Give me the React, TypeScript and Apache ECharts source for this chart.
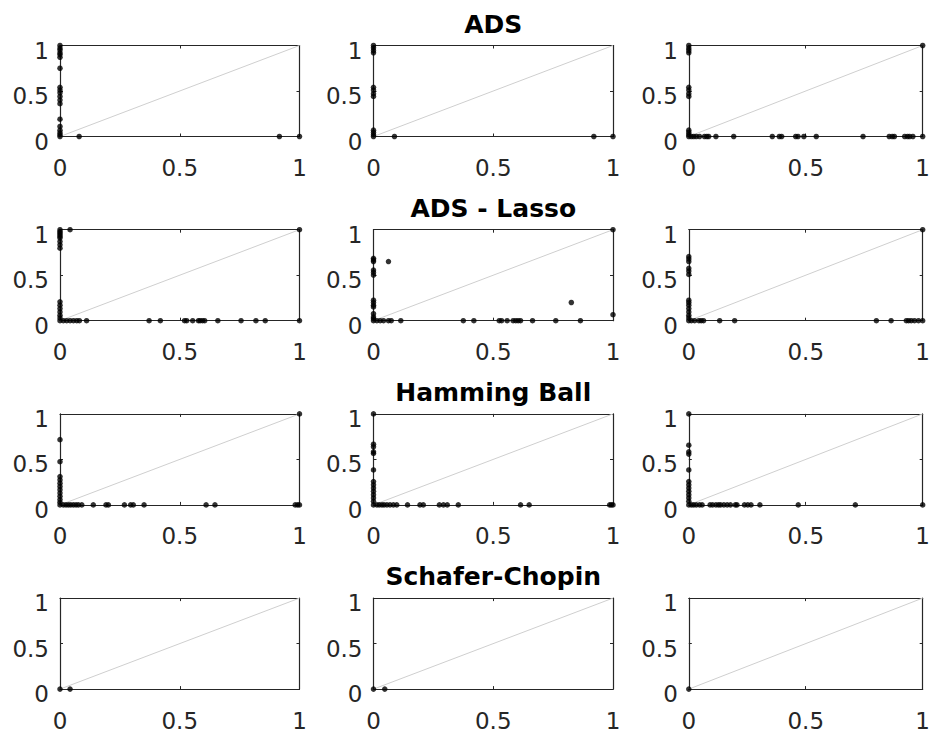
import React, { useEffect, useRef } from "react";
import * as echarts from "echarts";

// Row titles (drawn above the middle column of each row)
const rowTitles = ["ADS", "ADS - Lasso", "Hamming Ball", "Schafer-Chopin"];

// Shared tick values for both axes of every panel
const tickValues = [0, 0.5, 1];

// Reference diagonal y = x
const diagonal = [
  [0, 0],
  [1, 1],
];

// Row 1: ADS
const adsCol1 = [
  [0, 1.0], [0, 0.97], [0, 0.95], [0, 0.92], [0, 0.9], [0, 0.87], [0, 0.75],
  [0, 0.54], [0, 0.51], [0, 0.48], [0, 0.44], [0, 0.4], [0, 0.36], [0, 0.19],
  [0, 0.11], [0, 0.07], [0, 0.04], [0, 0.02], [0, 0],
  [0.08, 0], [0.916, 0], [1, 0],
];
const adsCol2 = [
  [0, 1.0], [0, 0.975], [0, 0.945], [0, 0.92], [0, 0.54], [0, 0.51], [0, 0.47],
  [0, 0.44], [0, 0.07], [0, 0.045], [0, 0.02], [0, 0],
  [0.0875, 0], [0.92, 0], [1, 0],
];
const adsCol3 = [
  [0, 1.0], [0, 0.97], [0, 0.945], [0, 0.92], [0, 0.54], [0, 0.51], [0, 0.47],
  [0, 0.44], [0, 0.07], [0, 0.045], [0, 0.02], [0, 0], [1, 1],
  [0.011, 0], [0.021, 0], [0.032, 0], [0.046, 0], [0.067, 0], [0.077, 0],
  [0.085, 0], [0.116, 0], [0.192, 0], [0.357, 0], [0.387, 0], [0.397, 0],
  [0.457, 0], [0.467, 0], [0.492, 0], [0.545, 0], [0.745, 0], [0.857, 0],
  [0.87, 0], [0.879, 0], [0.923, 0], [0.935, 0], [0.944, 0], [0.958, 0], [1, 0],
];

// Row 2: ADS - Lasso
const lassoCol1 = [
  [0, 1.0], [0, 0.98], [0, 0.963], [0, 0.945], [0, 0.926], [0, 0.908], [0, 0.87],
  [0, 0.834], [0, 0.797], [0, 0.207], [0, 0.17], [0, 0.133], [0, 0.096],
  [0, 0.059], [0, 0.03], [0, 0], [0.042, 1.0], [1, 1],
  [0.014, 0], [0.028, 0], [0.042, 0], [0.056, 0], [0.07, 0], [0.081, 0],
  [0.111, 0], [0.372, 0], [0.419, 0], [0.52, 0], [0.529, 0], [0.554, 0],
  [0.578, 0], [0.585, 0], [0.595, 0], [0.604, 0], [0.659, 0], [0.756, 0],
  [0.818, 0], [0.857, 0], [1, 0],
];
const lassoCol2 = [
  [0, 0.686], [0, 0.668], [0, 0.65], [0, 0.557], [0, 0.531], [0, 0.502],
  [0, 0.225], [0, 0.199], [0, 0.17], [0, 0.151], [0, 0.077], [0, 0.041],
  [0, 0.022], [0, 0], [0.0625, 0.65], [0.826, 0.2], [1, 0.066], [1, 1],
  [0.014, 0], [0.028, 0], [0.042, 0], [0.0625, 0], [0.074, 0], [0.114, 0],
  [0.375, 0], [0.419, 0], [0.525, 0], [0.535, 0], [0.558, 0], [0.583, 0],
  [0.594, 0], [0.604, 0], [0.614, 0], [0.664, 0], [0.761, 0], [0.864, 0],
];
const lassoCol3 = [
  [0, 0.705], [0, 0.679], [0, 0.65], [0, 0.576], [0, 0.546], [0, 0.509],
  [0, 0.225], [0, 0.199], [0, 0.17], [0, 0.133], [0, 0.096], [0, 0.059],
  [0, 0.03], [0, 0], [1, 1],
  [0.011, 0], [0.025, 0], [0.043, 0], [0.053, 0], [0.063, 0], [0.132, 0],
  [0.196, 0], [0.802, 0], [0.865, 0], [0.93, 0], [0.94, 0], [0.951, 0],
  [0.965, 0], [0.982, 0], [1, 0],
];

// Row 3: Hamming Ball
const hammingCol1 = [
  [0, 0.717], [0, 0.475], [0, 0.312], [0, 0.275], [0, 0.239], [0, 0.203],
  [0, 0.167], [0, 0.13], [0, 0.094], [0, 0.058], [0, 0.029], [0, 0], [1, 1],
  [0.014, 0], [0.025, 0], [0.035, 0], [0.045, 0], [0.056, 0], [0.067, 0],
  [0.077, 0], [0.091, 0], [0.139, 0], [0.192, 0], [0.202, 0], [0.269, 0],
  [0.295, 0], [0.306, 0], [0.351, 0], [0.61, 0], [0.647, 0], [0.982, 0],
  [0.992, 0], [1, 0],
];
const hammingCol2 = [
  [0, 1.0], [0, 0.667], [0, 0.638], [0, 0.583], [0, 0.565], [0, 0.384],
  [0, 0.257], [0, 0.221], [0, 0.185], [0, 0.149], [0, 0.112], [0, 0.076],
  [0, 0.04], [0, 0],
  [0.014, 0], [0.024, 0], [0.035, 0], [0.044, 0], [0.056, 0], [0.069, 0],
  [0.083, 0], [0.097, 0], [0.142, 0], [0.194, 0], [0.208, 0], [0.275, 0],
  [0.292, 0], [0.308, 0], [0.354, 0], [0.614, 0], [0.65, 0], [0.986, 0],
  [0.993, 0], [1, 0],
];
const hammingCol3 = [
  [0, 1.0], [0, 0.656], [0, 0.583], [0, 0.558], [0, 0.384], [0, 0.257],
  [0, 0.221], [0, 0.185], [0, 0.149], [0, 0.112], [0, 0.076], [0, 0.04], [0, 0],
  [0.011, 0], [0.021, 0], [0.032, 0], [0.046, 0], [0.057, 0], [0.091, 0],
  [0.102, 0], [0.116, 0], [0.127, 0], [0.136, 0], [0.15, 0], [0.164, 0],
  [0.178, 0], [0.199, 0], [0.206, 0], [0.238, 0], [0.252, 0], [0.266, 0],
  [0.304, 0], [0.468, 0], [0.712, 0], [1, 0],
];

// Row 4: Schafer-Chopin
const schaferCol1 = [[0, 0], [0.042, 0]];
const schaferCol2 = [[0, 0], [0.047, 0]];
const schaferCol3 = [[0, 0]];

const panels = [
  adsCol1, adsCol2, adsCol3,
  lassoCol1, lassoCol2, lassoCol3,
  hammingCol1, hammingCol2, hammingCol3,
  schaferCol1, schaferCol2, schaferCol3,
];

// Layout of the 4 x 3 panel grid (pixels)
const colLeft = [60, 373.5, 688.8];
const rowTop = [45.5, 229.7, 413.9, 598.1];
const panelW = 239.5;
const panelH = 91;

const AXIS_COLOR = "#262626";
const FONT = "DejaVu Sans";

function buildOption() {
  const grid: any[] = [];
  const xAxis: any[] = [];
  const yAxis: any[] = [];
  const series: any[] = [];
  const title: any[] = [];

  const common = {
    min: tickValues[0],
    max: tickValues[tickValues.length - 1],
    interval: tickValues[1] - tickValues[0],
    splitLine: { show: false },
    axisLine: { show: true, onZero: false, lineStyle: { color: AXIS_COLOR, width: 1.2 } },
    axisTick: { show: true, inside: true, length: 3, lineStyle: { color: AXIS_COLOR, width: 1 } },
  };

  for (let r = 0; r < 4; r++) {
    title.push({
      text: rowTitles[r],
      left: colLeft[1] + panelW / 2,
      top: rowTop[r] - 34,
      textAlign: "center",
      padding: 0,
      textStyle: { fontFamily: FONT, fontWeight: "bold", fontSize: 25, color: "#000" },
    });
    for (let c = 0; c < 3; c++) {
      const i = r * 3 + c;
      grid.push({ left: colLeft[c], top: rowTop[r], width: panelW, height: panelH });
      xAxis.push({
        ...common,
        type: "value",
        gridIndex: i,
        position: "bottom",
        axisLabel: { show: true, margin: 20, color: AXIS_COLOR, fontFamily: FONT, fontSize: 23 },
      });
      xAxis.push({
        ...common,
        type: "value",
        gridIndex: i,
        position: "top",
        axisLabel: { show: false },
      });
      yAxis.push({
        ...common,
        type: "value",
        gridIndex: i,
        position: "left",
        axisLabel: {
          show: true,
          margin: 11,
          formatter: (v: number) => `{t|${v}}`,
          rich: {
            t: {
              padding: [10, 0, 0, 0],
              color: AXIS_COLOR,
              fontFamily: FONT,
              fontSize: 23,
            },
          },
        },
      });
      yAxis.push({
        ...common,
        type: "value",
        gridIndex: i,
        position: "right",
        axisLabel: { show: false },
      });
      series.push({
        type: "line",
        xAxisIndex: 2 * i,
        yAxisIndex: 2 * i,
        data: diagonal,
        symbol: "none",
        silent: true,
        lineStyle: { color: "#cfcfcf", width: 1 },
        z: 1,
      });
      series.push({
        type: "scatter",
        xAxisIndex: 2 * i,
        yAxisIndex: 2 * i,
        data: panels[i],
        symbol: "circle",
        symbolSize: 5.5,
        clip: false,
        itemStyle: { color: "#000000" },
        z: 3,
      });
    }
  }

  return {
    animation: false,
    backgroundColor: "#ffffff",
    title,
    grid,
    xAxis,
    yAxis,
    series,
  };
}

export default function App() {
  const ref = useRef<HTMLDivElement>(null);

  useEffect(() => {
    if (!ref.current) return;
    const chart = echarts.init(ref.current, undefined, { renderer: "svg" });
    chart.setOption(buildOption());
    return () => chart.dispose();
  }, []);

  return (
    <div
      ref={ref}
      style={{ position: "absolute", left: 0, top: 0, width: 933, height: 736, background: "#fff" }}
    />
  );
}
